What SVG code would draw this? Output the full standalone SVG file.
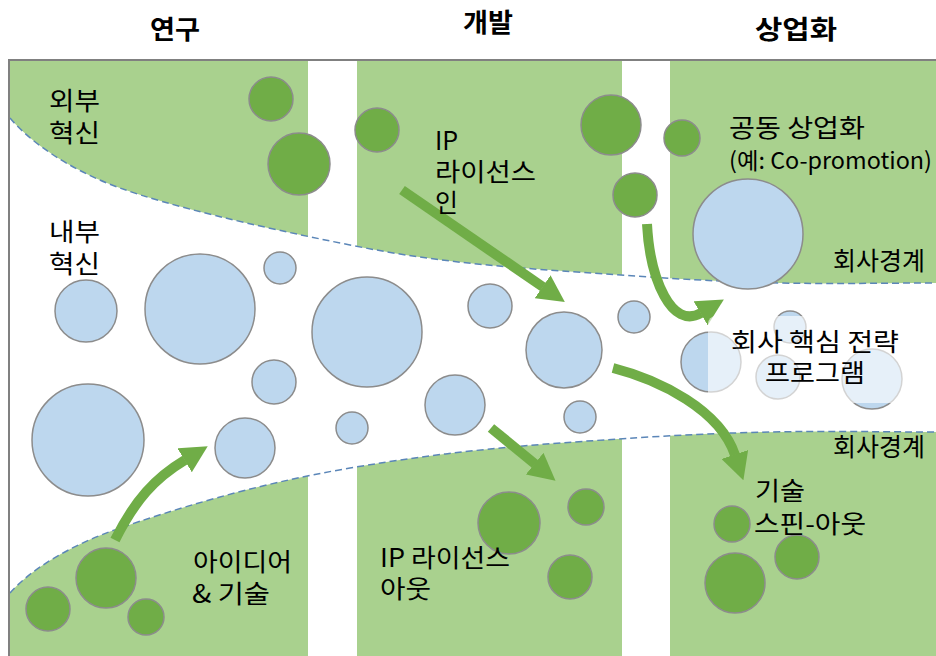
<svg xmlns="http://www.w3.org/2000/svg" width="936" height="656" viewBox="0 0 936 656">
<style>
.t{font-family:"Noto Sans CJK KR","Liberation Sans",sans-serif;font-size:25px;fill:#000}
.s{font-size:23px}
.h{font-family:"Noto Sans CJK KR","Liberation Sans",sans-serif;font-size:26px;font-weight:bold;fill:#000;text-anchor:middle}
.zone{fill:#A9D18E}
.edge{fill:none;stroke:#5B86B8;stroke-width:1.5;stroke-dasharray:7 4}
.b{fill:#BDD7EE;stroke:#8C8C8C;stroke-width:1.5}
.g{fill:#70AD47;stroke:#8C8C8C;stroke-width:1.5}
.ar{fill:none;stroke:#70AD47;stroke-width:10;marker-end:url(#ah)}
</style>
<defs>
<clipPath id="cols">
<rect x="10" y="61" width="298" height="595"/>
<rect x="357" y="61" width="265" height="595"/>
<rect x="670" y="61" width="266" height="595"/>
</clipPath>
<marker id="ah" markerUnits="strokeWidth" viewBox="0 -1.4 2.7 2.8" refX="0.05" refY="0" markerWidth="2.7" markerHeight="2.8" orient="auto">
<path d="M0,-1.4 L2.7,0 L0,1.4 Z" fill="#70AD47"/>
</marker>
</defs>
<rect width="936" height="656" fill="#fff"/>
<g id="headers">
<text class="h" x="175" y="39" textLength="50" lengthAdjust="spacingAndGlyphs">연구</text>
<text class="h" x="488" y="32" textLength="50" lengthAdjust="spacingAndGlyphs">개발</text>
<text class="h" x="796" y="39" textLength="82" lengthAdjust="spacingAndGlyphs">상업화</text>
</g>
<g id="zones" clip-path="url(#cols)">
<path class="zone" d="M10,118 C30,142 70,170 120,188 S250,225 350,245 S520,268 650,277 S850,283 936,283 V61 H10 Z"/>
<path class="zone" d="M10,593 C30,570 70,545 120,528 S250,485 350,468 S520,445 650,437 S850,432 936,432 V656 H10 Z"/>
</g>
<g id="boundaries">
<path class="edge" d="M10,118 C30,142 70,170 120,188 S250,225 350,245 S520,268 650,277 S850,283 936,283"/>
<path class="edge" d="M10,593 C30,570 70,545 120,528 S250,485 350,468 S520,445 650,437 S850,432 936,432"/>
</g>
<path id="frame" d="M9,656 V60 H936" fill="none" stroke="#808080" stroke-width="2"/>
<g id="internal">
<circle class="b" cx="86" cy="311" r="31"/>
<circle class="b" cx="200" cy="309" r="55"/>
<circle class="b" cx="280" cy="268" r="16"/>
<circle class="b" cx="367" cy="332" r="55"/>
<circle class="b" cx="274" cy="382" r="22"/>
<circle class="b" cx="88" cy="440" r="56"/>
<circle class="b" cx="245" cy="448" r="30"/>
<circle class="b" cx="352" cy="428" r="16"/>
<circle class="b" cx="455" cy="405" r="30"/>
<circle class="b" cx="490" cy="306" r="22"/>
<circle class="b" cx="564" cy="350" r="38"/>
<circle class="b" cx="634" cy="317" r="16"/>
<circle class="b" cx="580" cy="417" r="16"/>
<circle class="b" cx="748" cy="234" r="55"/>
<circle class="b" cx="711" cy="362" r="30"/>
<circle class="b" cx="790" cy="327" r="16"/>
<circle class="b" cx="778" cy="377" r="22"/>
<circle class="b" cx="872" cy="379" r="30"/>
</g>
<g id="external">
<circle class="g" cx="271" cy="99" r="22"/>
<circle class="g" cx="299" cy="164" r="31"/>
<circle class="g" cx="377" cy="130" r="22"/>
<circle class="g" cx="611" cy="125" r="30"/>
<circle class="g" cx="682" cy="138" r="18"/>
<circle class="g" cx="635" cy="195" r="22"/>
<circle class="g" cx="48" cy="609" r="22"/>
<circle class="g" cx="106" cy="578" r="30"/>
<circle class="g" cx="146" cy="617" r="18"/>
<circle class="g" cx="509" cy="523" r="31"/>
<circle class="g" cx="586" cy="507" r="18"/>
<circle class="g" cx="570" cy="577" r="22"/>
<circle class="g" cx="732" cy="524" r="18"/>
<circle class="g" cx="735" cy="583" r="30"/>
<circle class="g" cx="797" cy="557" r="22"/>
</g>
<g id="connectors">
<path class="ar" d="M402,190 L543,287"/>
<path class="ar" d="M647,224 C650,280 672,330 701,313"/>
<path class="ar" d="M115,540 C135,500 155,478 185,460"/>
<path class="ar" d="M491,428 L535,464"/>
<path class="ar" d="M613,368 C660,380 720,410 735,455"/>
</g>
<g id="core-program">
<rect x="708" y="316" width="216" height="87" rx="8" fill="#fff" fill-opacity="0.62"/>
<text class="t" text-anchor="middle"><tspan x="815" y="351" textLength="168" lengthAdjust="spacingAndGlyphs">회사 핵심 전략</tspan><tspan x="815" y="382" textLength="100" lengthAdjust="spacingAndGlyphs">프로그램</tspan></text>
</g>
<g id="labels">
<text class="t"><tspan x="49" y="110" textLength="51" lengthAdjust="spacingAndGlyphs">외부</tspan><tspan x="49" y="142" textLength="51" lengthAdjust="spacingAndGlyphs">혁신</tspan></text>
<text class="t"><tspan x="49" y="241" textLength="51" lengthAdjust="spacingAndGlyphs">내부</tspan><tspan x="49" y="273" textLength="51" lengthAdjust="spacingAndGlyphs">혁신</tspan></text>
<text class="t"><tspan x="435" y="150">IP</tspan><tspan x="435" y="181" textLength="101" lengthAdjust="spacingAndGlyphs">라이선스</tspan><tspan x="435" y="212">인</tspan></text>
<text class="t"><tspan x="729" y="137" textLength="136" lengthAdjust="spacingAndGlyphs">공동 상업화</tspan></text>
<text class="t s" x="729" y="169" textLength="203" lengthAdjust="spacingAndGlyphs">(예: Co-promotion)</text>
<text class="t" x="833" y="270" textLength="92" lengthAdjust="spacingAndGlyphs">회사경계</text>
<text class="t" x="833" y="456" textLength="92" lengthAdjust="spacingAndGlyphs">회사경계</text>
<text class="t"><tspan x="193" y="571" textLength="99" lengthAdjust="spacingAndGlyphs">아이디어</tspan><tspan x="192" y="603" textLength="78" lengthAdjust="spacingAndGlyphs">&amp; 기술</tspan></text>
<text class="t"><tspan x="380" y="567" textLength="130" lengthAdjust="spacingAndGlyphs">IP 라이선스</tspan><tspan x="380" y="598" textLength="51" lengthAdjust="spacingAndGlyphs">아웃</tspan></text>
<text class="t"><tspan x="755" y="500" textLength="50" lengthAdjust="spacingAndGlyphs">기술</tspan><tspan x="754" y="533" textLength="112" lengthAdjust="spacingAndGlyphs">스핀-아웃</tspan></text>
</g>
</svg>
